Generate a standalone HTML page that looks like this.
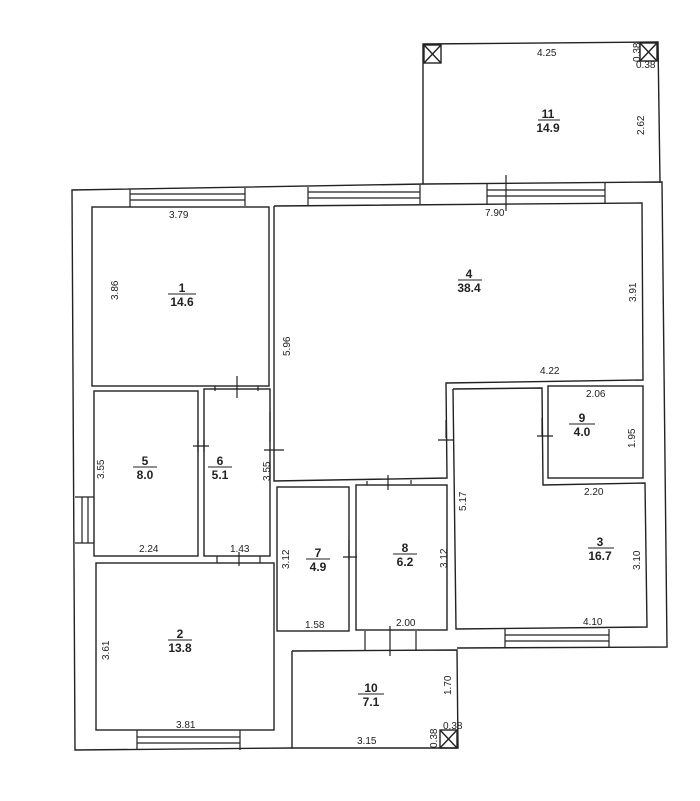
<!DOCTYPE html>
<html><head><style>body{margin:0;background:#fff}svg{display:block;position:absolute;left:0;top:0}</style></head><body>
<svg width="700" height="801" viewBox="0 0 700 801" fill="none" stroke="#222" stroke-width="1.4">
<polyline points="425,184 72,190 75,750 292,748"/>
<polyline points="425,184 662,182 667,647 457,648"/>
<polyline points="292,651 457,650 458,748 292,748 292,651"/>
<polyline points="423,184 423,44 658,42 660,182"/>
<rect x="424" y="45" width="17" height="18"/><path d="M424 45l17 18M441 45l-17 18"/>
<rect x="640" y="43" width="17" height="18"/><path d="M640 43l17 18M657 43l-17 18"/>
<rect x="440" y="730" width="17" height="18"/><path d="M440 730l17 18M457 730l-17 18"/>
<rect x="92" y="207" width="177" height="179"/>
<polyline points="274,206 642,203 643,380 446,383 447,478 274,481 274,206"/>
<rect x="94" y="391" width="104" height="165"/>
<rect x="204" y="389" width="66" height="167"/>
<rect x="277" y="487" width="72" height="144"/>
<rect x="356" y="485" width="91" height="145"/>
<polyline points="453,389 542,388 543,485 645,483 647,627 456,629 453,389"/>
<rect x="548" y="386" width="95" height="92"/>
<rect x="96" y="563" width="178" height="167"/>
<g stroke-width="1.2">
<path d="M130 189v18M245 188v18M130 194h115M130 200h115"/>
<path d="M308 187v19M420 185v19M308 192h112M308 198h112"/>
<path d="M487 184v20M605 183v20M487 190h118M487 196h118"/>
<path d="M137 730v20M240 730v20M137 737h103M137 743h103"/>
<path d="M505 629v18M609 629v18M505 635h104M505 641h104"/>
<path d="M75 497h19M75 543h19M82 497v46M88 497v46"/>
<path d="M506 175v36"/>
<path d="M215 386v5M258 386v5M237 376v22"/>
<path d="M198 440v12M204 440v12M193 446h16"/>
<path d="M270 412v30M264 450h20"/>
<path d="M446 420v18M438 440h16"/>
<path d="M542 418v18M537 436h16"/>
<path d="M367 481v4M411 480v4M388 475v15"/>
<path d="M349 540v20M343 557h14"/>
<path d="M365 631v20M416 631v20M390 626v30"/>
<path d="M217 556v7M260 556v7M239 552v14"/>
</g>
<g stroke-width="1">
<path d="M168 294h28M133 467h24M208 467h24M306 559h24M393 554h24M569 424h26M588 548h26M168 640h24M358 694h26M538 120h22M458 280h24"/>
</g>
</svg>
<svg width="700" height="801">
<g text-anchor="middle" font-size="12" font-weight="bold" font-family="Liberation Sans" fill="#222">
<text x="182" y="292">1</text><text x="182" y="306">14.6</text>
<text x="145" y="465">5</text><text x="145" y="479">8.0</text>
<text x="220" y="465">6</text><text x="220" y="479">5.1</text>
<text x="318" y="557">7</text><text x="318" y="571">4.9</text>
<text x="405" y="552">8</text><text x="405" y="566">6.2</text>
<text x="582" y="422">9</text><text x="582" y="436">4.0</text>
<text x="600" y="546">3</text><text x="600" y="560">16.7</text>
<text x="180" y="638">2</text><text x="180" y="652">13.8</text>
<text x="371" y="692">10</text><text x="371" y="706">7.1</text>
<text x="548" y="118">11</text><text x="548" y="132">14.9</text>
<text x="469" y="278">4</text><text x="469" y="292">38.4</text>
</g>
<g font-size="10" font-family="Liberation Sans" fill="#222">
<text x="169" y="218">3.79</text><text x="485" y="216">7.90</text>
<text x="537" y="56">4.25</text><text x="636" y="68">0.38</text>
<text x="540" y="374">4.22</text><text x="586" y="397">2.06</text>
<text x="584" y="495">2.20</text><text x="583" y="625">4.10</text>
<text x="139" y="552">2.24</text><text x="230" y="552">1.43</text>
<text x="305" y="628">1.58</text><text x="396" y="626">2.00</text>
<text x="176" y="728">3.81</text><text x="357" y="744">3.15</text>
<text x="443" y="729">0.38</text>
<text transform="translate(118,300) rotate(-90)">3.86</text>
<text transform="translate(290,356) rotate(-90)">5.96</text>
<text transform="translate(636,302) rotate(-90)">3.91</text>
<text transform="translate(104,479) rotate(-90)">3.55</text>
<text transform="translate(270,481) rotate(-90)">3.55</text>
<text transform="translate(466,511) rotate(-90)">5.17</text>
<text transform="translate(635,448) rotate(-90)">1.95</text>
<text transform="translate(640,570) rotate(-90)">3.10</text>
<text transform="translate(289,569) rotate(-90)">3.12</text>
<text transform="translate(447,568) rotate(-90)">3.12</text>
<text transform="translate(109,660) rotate(-90)">3.61</text>
<text transform="translate(451,695) rotate(-90)">1.70</text>
<text transform="translate(437,748) rotate(-90)">0.38</text>
<text transform="translate(644,135) rotate(-90)">2.62</text>
<text transform="translate(640,62) rotate(-90)">0.38</text>
</g>
</svg>
</body></html>
